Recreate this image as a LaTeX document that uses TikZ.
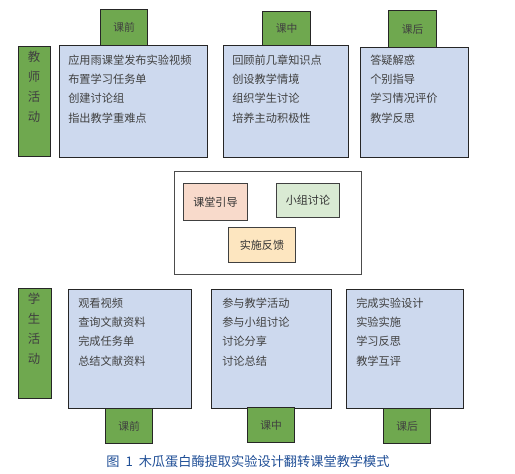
\documentclass[tikz,border=0pt]{standalone}
\usepackage{fontspec}
\setmainfont{Noto Sans CJK SC}
\definecolor{tabgreen}{HTML}{6FA84F}
\definecolor{boxblue}{HTML}{CDD9EE}
\definecolor{pinkfill}{HTML}{F8DACB}
\definecolor{mintfill}{HTML}{D9EAD3}
\definecolor{sandfill}{HTML}{FDE6C0}
\definecolor{txtgray}{HTML}{404040}
\definecolor{capblue}{HTML}{1F4E96}
\tikzset{
  pbox/.style args={#1x#2}{anchor=north west, inner sep=0pt, minimum width={#1*0.75pt}, minimum height={#2*0.75pt}},
  greenbox/.style={draw=black!85, line width=0.9pt, fill=tabgreen, text=txtgray, font={\fontsize{8.1}{10}\selectfont}},
  bluebox/.style={draw=black!85, line width=0.9pt, fill=boxblue},
  midbox/.style={draw=black!75, line width=0.7pt, text=black!80, font={\fontsize{8.3}{10}\selectfont}},
  listtxt/.style={anchor=north west, inner sep=0pt, align=left, text=txtgray, font={\fontsize{8.4}{14.5}\selectfont}},
  vlabel/.style={anchor=north, inner sep=0pt, align=center, text=txtgray, font={\fontsize{9.3}{15}\selectfont}},
}
\begin{document}
\begin{tikzpicture}[x=0.75pt,y=-0.75pt]
\useasboundingbox (0,0) rectangle (515,474);
% ---------- top row ----------
\node[greenbox, pbox=32x110] (tlab) at (18,46) {};
\node[vlabel] (tlabt) at (34,51) {教\\师\\活\\动};
\node[greenbox, pbox=47x36] (ta1) at (100,9) {课前};
\node[bluebox, pbox=148x112] (ba1) at (59,45) {};
\node[listtxt] (ba1t) at (68,54.5) {应用雨课堂发布实验视频\\布置学习任务单\\创建讨论组\\指出教学重难点};
\node[greenbox, pbox=48x34] (ta2) at (262,11) {课中};
\node[bluebox, pbox=125x112] (ba2) at (223,45) {};
\node[listtxt] (ba2t) at (232,54.5) {回顾前几章知识点\\创设教学情境\\组织学生讨论\\培养主动积极性};
\node[greenbox, pbox=48x37] (ta3) at (388,10) {课后};
\node[bluebox, pbox=108x110] (ba3) at (360,47) {};
\node[listtxt] (ba3t) at (370,54.5) {答疑解惑\\个别指导\\学习情况评价\\教学反思};
% ---------- middle ----------
\node[draw=black!70, line width=0.7pt, pbox=187x103] (mid) at (174,171) {};
\node[midbox, fill=pinkfill, pbox=64x37] (m1) at (183,183) {课堂引导};
\node[midbox, fill=mintfill, pbox=63x34] (m2) at (276,183) {小组讨论};
\node[midbox, fill=sandfill, pbox=67x35] (m3) at (228,227) {实施反馈};
% ---------- bottom row ----------
\node[greenbox, pbox=33x110] (slab) at (18,288) {};
\node[vlabel] (slabt) at (34,293) {学\\生\\活\\动};
\node[bluebox, pbox=123x119] (bb1) at (68,289) {};
\node[listtxt] (bb1t) at (78,297.5) {观看视频\\查询文献资料\\完成任务单\\总结文献资料};
\node[greenbox, pbox=47x35] (tb1) at (105,408) {课前};
\node[bluebox, pbox=120x119] (bb2) at (211,289) {};
\node[listtxt] (bb2t) at (222,297.5) {参与教学活动\\参与小组讨论\\讨论分享\\讨论总结};
\node[greenbox, pbox=47x35] (tb2) at (247,407) {课中};
\node[bluebox, pbox=117x119] (bb3) at (346,289) {};
\node[listtxt] (bb3t) at (356,297.5) {完成实验设计\\实验实施\\学习反思\\教学互评};
\node[greenbox, pbox=47x35] (tb3) at (383,408) {课后};
% ---------- caption ----------
\node[text=capblue, inner sep=0pt, font={\fontsize{9.9}{12}\selectfont}] (cap) at (248,462) {图\hspace{0.45em}1\hspace{0.45em}木瓜蛋白酶提取实验设计翻转课堂教学模式};
\end{tikzpicture}
\end{document}
